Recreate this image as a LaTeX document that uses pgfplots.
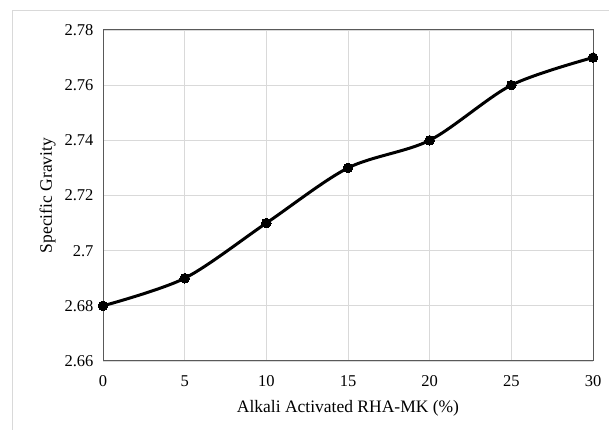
\documentclass[border=0pt]{standalone}
\usepackage{pgfplots}
\pgfplotsset{compat=1.18}
\usepackage{fontspec}
\setmainfont{Liberation Serif}
\definecolor{gridgray}{HTML}{D9D9D9}
\definecolor{framegray}{HTML}{595959}
\begin{document}
\begin{tikzpicture}[x=1pt,y=1pt]
  % canvas and chart-area border
  \path[use as bounding box] (0,0) rectangle (609,430);
  \draw[gridgray, line width=0.8pt] (12,0) -- (12,420) -- (609,420);
  \begin{axis}[
    at={(103pt,69pt)}, anchor=south west,
    scale only axis, width=490pt, height=331pt,
    xmin=0, xmax=30, ymin=2.66, ymax=2.78,
    xtick={0,5,...,30},
    ytick={2.66,2.68,2.70,2.72,2.74,2.76,2.78},
    yticklabels={2.66,2.68,2.7,2.72,2.74,2.76,2.78},
    major tick length=0pt,
    grid=major,
    major grid style={gridgray, line width=0.7pt},
    axis line style={framegray, line width=1pt},
    tick label style={font=\fontsize{16.5}{18}\selectfont, black},
    /pgf/number format/assume math mode=true,
    xticklabel style={yshift=-11pt},
    yticklabel style={xshift=-6pt},
    xlabel={Alkali Activated RHA-MK (\%)},
    ylabel={Specific Gravity},
    label style={font=\fontsize{17.5}{19}\selectfont},
    xlabel style={yshift=-7pt},
    ylabel style={yshift=2pt},
    clip=false,
  ]
    \addplot[black, line width=3pt, smooth, tension=0.5,
      mark=*, mark size=4.8pt, mark options={line width=0pt}]
      coordinates {(0,2.68) (5,2.69) (10,2.71) (15,2.73) (20,2.74) (25,2.76) (30,2.77)};
  \end{axis}
\end{tikzpicture}
\end{document}
